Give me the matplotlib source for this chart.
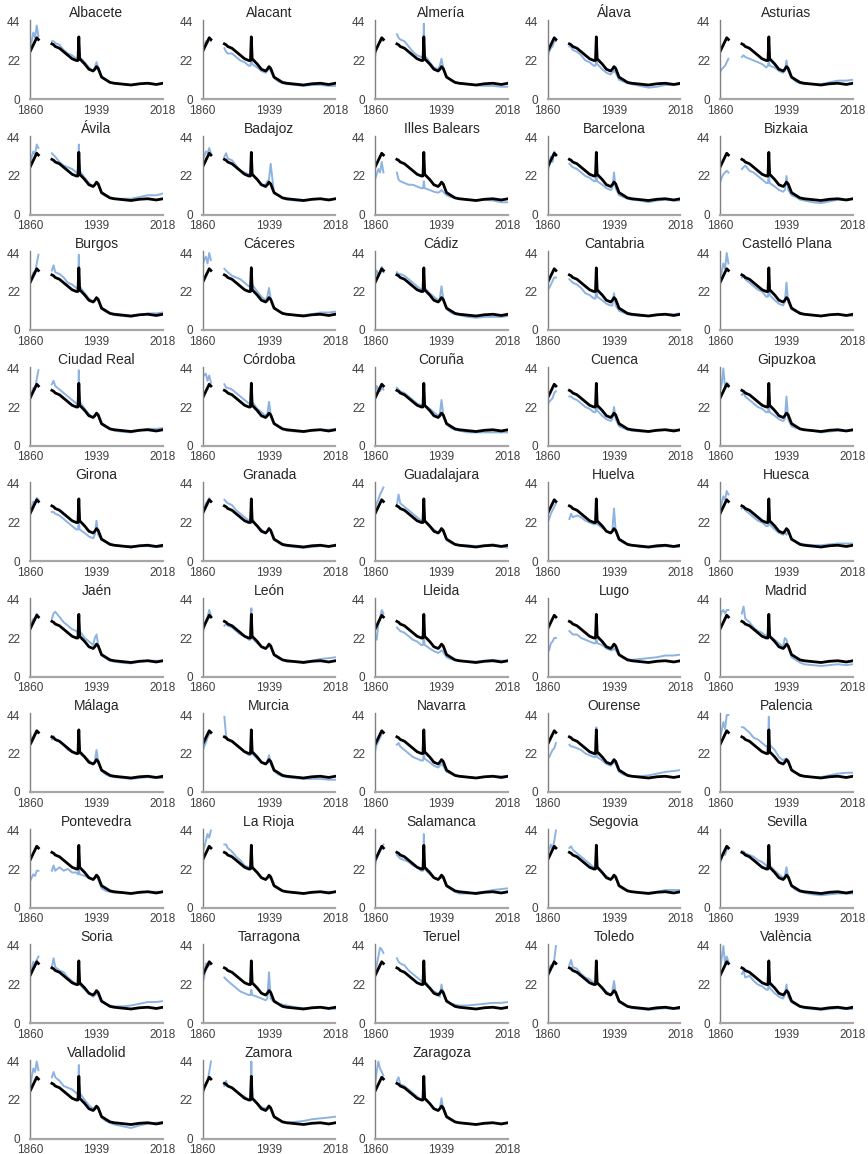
import numpy as np
import matplotlib
matplotlib.use("Agg")
import matplotlib.pyplot as plt

plt.rcParams['font.family'] = ['Liberation Sans', 'DejaVu Sans']

# Years sampled (gap in the series between 1870 and 1886)
years = [1860, 1862, 1864, 1866, 1868, 1870,
         1886, 1888, 1890, 1895, 1900, 1905, 1910, 1915, 1917, 1918, 1919,
         1925, 1930, 1935, 1937, 1939, 1941, 1945, 1950, 1955, 1960,
         1970, 1980, 1990, 2000, 2010, 2018]

# Spain (black line)
spain = [27, 29, 31, 33, 35, 34,
         31.5, 31, 30, 29, 27, 25, 23, 22, 22, 35.5, 23,
         20, 17, 16, 17, 18.5, 17.5, 12.5, 11, 9.5, 9,
         8.5, 8, 8.7, 9, 8.3, 9]

# Provinces (blue lines)
albacete = [28, 33, 38, 35, 42, 36, 33, 33, 32, 31, 28, 26, 25, 23, 23, 33, 24, 21, 18, 16, 18, 21, 18, 13, 11, 9.5, 9, 8.5, 8, 8.5, 9, 8.5, 9]
alacant = [28, 30, 33, 32, 35, 33, 29, 27, 26, 26, 24, 22, 21, 19, 19, 28, 20, 18, 16, 15, 16, 18, 16, 12, 10, 9, 8.5, 8, 7.5, 8, 8, 7.5, 7.5]
almeria = [24, 29, 31, 33, 33, 34, 37, 35, 34, 33, 30, 27, 25, 24, 24, 43, 25, 21, 18, 17, 19, 23, 18, 13, 11, 9.5, 9, 8.5, 7.8, 7.5, 7.5, 7, 7]
alava = [24, 27, 29, 30, 33, 33, 30, 30, 28, 27, 25, 22, 21, 19, 19, 24, 20, 17, 15, 14, 15, 16, 15, 11, 10, 9, 8.5, 7.5, 6.5, 7, 8, 8, 8.5]
asturias = [15, 17, 18, 19, 21, 23, 24, 25, 24, 23, 22, 21, 20, 18, 19, 22, 19, 18, 16, 15, 16, 22, 16, 12, 10, 9, 8.5, 8.5, 8.5, 9.5, 10.5, 10.5, 11]
avila = [28, 33, 36, 34, 40, 38, 35, 34, 33, 30, 28, 27, 26, 24, 24, 40, 25, 21, 18, 16, 17, 18, 17, 12, 10.5, 9.5, 9, 9, 9, 10, 11, 11, 12]
badajoz = [30, 33, 36, 35, 38, 35, 33, 35, 32, 31, 28, 25, 24, 23, 22, 31, 23, 20, 17, 17, 19, 20, 29, 12, 11, 9.5, 8.5, 8, 7.8, 8.5, 9, 8.5, 9]
balears = [20, 23, 26, 24, 30, 24, 24, 20, 19, 18, 17, 17, 16, 15, 15, 19, 15, 14, 13, 12.5, 13, 14, 13, 11, 10, 9.5, 9, 8.5, 8, 8.5, 8, 7, 7]
barcelona = [24, 28, 33, 30, 36, 34, 29, 28, 27, 26, 24, 22, 21, 19, 19, 26, 19, 17, 15, 14, 15, 24, 15, 11, 10, 9, 8.5, 8, 7, 8, 8.5, 8, 8]
bizkaia = [18, 21, 23, 24, 25, 24, 26, 27, 28, 25, 24, 22, 20, 18, 18, 24, 18, 16, 14, 13, 14, 22, 14, 11, 10, 8.5, 8, 7, 6.5, 7.5, 8.5, 8.5, 9]
burgos = [27, 30, 33, 32, 38, 43, 34, 37, 33, 32, 30, 27, 26, 24, 24, 43, 25, 21, 18, 16, 17, 18, 17, 12, 10.5, 9.5, 8.5, 8, 7.5, 8.5, 9.5, 9.5, 10]
caceres = [37, 40, 42, 38, 44, 40, 35, 34, 33, 31, 30, 29, 27, 25, 25, 36, 26, 22, 19, 17, 19, 24, 18, 13, 11, 9.5, 9, 8.5, 8.5, 9, 10, 10, 10.5]
cadiz = [29, 34, 32, 33, 36, 33, 33, 32, 32, 31, 29, 27, 25, 23, 23, 26, 24, 21, 19, 17, 18, 25, 18, 12, 10, 9, 8.5, 7.5, 7, 7.5, 7.5, 7.5, 8]
cantabria = [23, 24, 26, 28, 30, 30, 29, 28, 27, 26, 24, 21, 20, 18, 18, 27, 19, 17, 15, 14, 14, 21, 14, 11, 10, 9, 8.5, 8, 8, 8.5, 9, 9, 9.5]
castello = [28, 33, 38, 35, 44, 38, 30, 31, 29, 27, 25, 23, 22, 19, 19, 27, 20, 17, 15, 14, 16, 27, 16, 12, 10.5, 10, 9, 8.5, 8, 8.5, 9, 8.5, 8]
ciudad_real = [27, 30, 33, 32, 38, 43, 35, 37, 34, 32, 30, 28, 26, 24, 24, 43, 25, 21, 18, 16, 17, 18, 17, 12, 10.5, 9.5, 8.5, 7.8, 7.5, 8.5, 9.5, 9.5, 10]
cordoba = [42, 40, 41, 37, 40, 36, 35, 33, 33, 32, 30, 28, 26, 24, 24, 36, 25, 21, 19, 17, 18, 25, 18, 13, 11, 9.5, 8.5, 8, 7.8, 8.5, 9, 9, 9.5]
coruna = [30, 34, 32, 31, 33, 32, 33, 32, 31, 30, 28, 26, 24, 23, 23, 26, 23, 21, 19, 17, 18, 26, 18, 12, 10, 9, 8.5, 7.5, 7.5, 7.5, 7.5, 7.5, 7.5]
cuenca = [23, 25, 26, 27, 30, 31, 28, 28, 27, 26, 24, 22, 21, 19, 19, 26, 20, 17, 15, 14, 15, 22, 15, 11, 10, 9, 8.5, 8, 8, 8.5, 9, 9, 9]
gipuzkoa = [31, 35, 44, 33, 36, 35, 29, 30, 28, 26, 24, 22, 21, 19, 19, 24, 19, 17, 15, 14, 15, 28, 15, 11, 10, 9.5, 9, 8.5, 7.5, 8, 8.5, 8.5, 8.5]
girona = [28, 31, 34, 33, 36, 35, 28, 28, 27, 26, 24, 22, 20, 18, 18, 22, 18, 16, 14, 13, 15, 23, 15, 12, 11, 10, 9, 8.5, 8.5, 8.5, 8.5, 8, 8]
granada = [28, 30, 33, 34, 36, 34, 35, 34, 33, 32, 29, 27, 25, 23, 23, 28, 24, 20, 18, 16, 17, 19, 17, 12, 10.5, 9, 8.5, 8, 7.5, 8, 8.5, 8.5, 8.5]
guadalajara = [30, 33, 35, 38, 40, 42, 32, 38, 33, 31, 29, 27, 25, 23, 22, 32, 23, 20, 18, 16, 17, 19, 17, 12, 10.5, 9.5, 9, 9, 8.5, 9, 9.5, 8.5, 7.5]
huelva = [22, 24, 27, 29, 31, 33, 24, 27, 25, 26, 25, 23, 22, 21, 21, 26, 21, 19, 17, 16, 17, 30, 17, 12, 10.5, 9.5, 9, 8, 7.8, 8, 8.5, 8, 8]
huesca = [28, 33, 37, 35, 40, 38, 30, 31, 29, 27, 25, 23, 22, 20, 20, 26, 21, 18, 16, 15, 16, 15, 17, 12, 11, 10, 9.5, 9, 9, 9.5, 10, 10, 10]
jaen = [27, 31, 33, 32, 36, 34, 33, 36, 37, 34, 31, 29, 27, 26, 25, 33, 26, 22, 20, 18, 22, 24, 18, 12, 10.5, 9, 8.5, 7.8, 7.5, 8.5, 9, 9, 9]
leon = [24, 28, 32, 34, 38, 35, 29, 30, 29, 28, 26, 24, 23, 21, 21, 39, 22, 19, 17, 16, 17, 17.5, 17, 12, 10.5, 9.5, 8.5, 8.5, 8.5, 9, 10, 10.5, 11]
lleida = [24, 21, 30, 33, 38, 36, 28, 27, 26, 25, 23, 21, 20, 18, 18, 23, 18, 16, 14.5, 13.5, 14, 15, 14, 11, 10, 9.5, 9, 8.5, 8.5, 9, 9.5, 9, 9]
lugo = [17, 15, 19, 20, 22, 22, 26, 25, 24, 24, 22, 21, 20, 19, 19, 22, 19, 18, 16, 15, 15, 16, 15, 12, 10.5, 10, 9.5, 10, 10.5, 11, 12, 12, 12.5]
madrid = [34, 37, 38, 36, 38, 38, 36, 40, 33, 31, 28, 26, 25, 23, 22, 27, 23, 21, 19, 17, 22, 21, 17, 11, 9.5, 8, 7, 6.5, 6, 6.5, 7, 6.5, 7]
malaga = [35, 28, 30, 32, 34, 34, 30, 32, 30, 29, 27, 24, 23, 22, 22, 29, 22, 20, 18, 16, 17, 24, 17, 12, 10, 9, 8.5, 8, 7.5, 8, 8.5, 8, 8]
murcia = [23, 26, 28, 31, 33, 34, 43, 32, 30, 29, 27, 25, 23, 21, 21, 26, 22, 19, 17, 16, 17, 21, 16, 12, 10, 9, 8.5, 8, 7.5, 7.5, 7.5, 7, 7]
navarra = [23, 27, 29, 31, 33, 34, 27, 28, 26, 24, 22, 20, 19, 18, 18, 22, 19, 17, 15, 14, 15, 16, 15, 11.5, 10.5, 9.5, 9, 8.5, 8, 8.5, 9, 9, 9]
ourense = [19, 20, 22, 24, 25, 28, 27, 26, 26, 25, 24, 22, 21, 20, 20, 37, 20, 18, 16, 15, 16, 17, 16, 11.5, 10, 9.5, 9, 9, 9.5, 10.5, 11.5, 12, 12.5]
palencia = [30, 35, 40, 36, 44, 44, 37, 37, 36, 34, 31, 30, 28, 26, 26, 43, 27, 24, 20, 18, 19, 19, 18, 13, 11, 10, 9, 8.5, 8.5, 9.5, 10.5, 11, 11]
pontevedra = [15, 17, 19, 18, 21, 21, 21, 24, 21, 23, 21, 22, 20, 20, 19, 22, 19, 18, 17, 16, 17, 18, 16, 11, 9.5, 9, 8.5, 8.5, 8, 8.5, 9, 9, 9]
la_rioja = [31, 34, 38, 42, 40, 44, 36, 36, 34, 32, 29, 27, 24, 23, 23, 36, 23, 20, 17, 16, 17, 17, 17, 12, 10.5, 9.5, 9, 8.5, 8, 8.5, 9, 9, 9]
salamanca = [24, 28, 30, 32, 34, 36, 30, 29, 28, 27, 26, 24, 23, 21, 21, 42, 22, 19, 17, 16, 17, 17, 17, 12, 10.5, 9, 8, 8, 8.5, 9, 10, 10.5, 11]
segovia = [30, 33, 36, 33, 38, 44, 34, 35, 33, 31, 29, 27, 25, 23, 23, 36, 24, 20, 18, 16, 17, 17.5, 17, 12, 10.5, 9.5, 9, 8.5, 8.5, 9, 10, 10, 10]
sevilla = [25, 28, 31, 30, 33, 34, 32, 32, 31, 30, 29, 27, 26, 24, 23, 28, 24, 21, 19, 17, 18, 23, 17, 12, 10, 9, 8.5, 7.5, 7, 7.5, 8, 8, 8]
soria = [28, 31, 35, 32, 36, 38, 32, 37, 32, 30, 29, 26, 24, 22, 22, 31, 22, 19, 17, 15, 16, 17, 16, 12, 11, 10, 9.5, 9.5, 10, 11, 12, 12, 12.5]
tarragona = [23, 26, 34, 32, 33, 34, 26, 25, 24, 22, 20, 18, 17, 16, 16, 19, 16, 15, 14, 13, 14, 29, 14, 12, 11, 10.5, 10, 9, 8.5, 8.5, 9, 8.5, 8]
teruel = [28, 33, 38, 43, 42, 40, 37, 35, 34, 33, 30, 28, 26, 24, 23, 28, 24, 20, 18, 17, 15, 22, 17, 13, 11, 10.5, 10, 10, 10.5, 11, 11.5, 11.5, 12]
toledo = [28, 31, 33, 32, 36, 44, 33, 36, 32, 31, 28, 26, 25, 23, 23, 28, 23, 20, 18, 16, 18, 24, 17, 12, 10.5, 9.5, 8.5, 8, 7.5, 8, 8.5, 8, 8]
valencia = [30, 37, 44, 34, 38, 35, 28, 30, 26, 27, 24, 22, 21, 19, 19, 26, 20, 17, 15, 14, 16, 22, 15, 12, 10.5, 9.5, 8.5, 8, 7.5, 8, 8.5, 8, 8]
valladolid = [28, 35, 40, 38, 44, 39, 35, 38, 35, 33, 30, 29, 28, 26, 25, 42, 26, 22, 19, 17, 18, 18, 17, 12, 10, 9, 8, 7, 6, 7.5, 8.5, 9, 9.5]
zamora = [24, 28, 31, 33, 38, 44, 30, 33, 30, 29, 27, 25, 24, 22, 22, 44, 23, 20, 18, 17, 18, 19, 17, 12, 10.5, 9.5, 9, 9.5, 10, 11, 11.5, 12, 12.5]
zaragoza = [30, 38, 44, 40, 38, 36, 33, 35, 31, 30, 28, 26, 24, 22, 22, 27, 23, 20, 17, 16, 17, 23, 17, 12, 10.5, 9.5, 9, 8.5, 8, 8.5, 9, 8.5, 9]

names = ["Albacete", "Alacant", "Almería", "Álava", "Asturias",
         "Ávila", "Badajoz", "Illes Balears", "Barcelona", "Bizkaia",
         "Burgos", "Cáceres", "Cádiz", "Cantabria", "Castelló Plana",
         "Ciudad Real", "Córdoba", "Coruña", "Cuenca", "Gipuzkoa",
         "Girona", "Granada", "Guadalajara", "Huelva", "Huesca",
         "Jaén", "León", "Lleida", "Lugo", "Madrid",
         "Málaga", "Murcia", "Navarra", "Ourense", "Palencia",
         "Pontevedra", "La Rioja", "Salamanca", "Segovia", "Sevilla",
         "Soria", "Tarragona", "Teruel", "Toledo", "València",
         "Valladolid", "Zamora", "Zaragoza"]

series = [albacete, alacant, almeria, alava, asturias,
          avila, badajoz, balears, barcelona, bizkaia,
          burgos, caceres, cadiz, cantabria, castello,
          ciudad_real, cordoba, coruna, cuenca, gipuzkoa,
          girona, granada, guadalajara, huelva, huesca,
          jaen, leon, lleida, lugo, madrid,
          malaga, murcia, navarra, ourense, palencia,
          pontevedra, la_rioja, salamanca, segovia, sevilla,
          soria, tarragona, teruel, toledo, valencia,
          valladolid, zamora, zaragoza]

x_ticks = [1860, 1939, 2018]
y_ticks = [0, 22, 44]

BLUE = "#8DB3E2"
W, H = 868, 1154

yr = np.array(years, dtype=float)
seg1 = yr <= 1870
seg2 = yr >= 1886

fig = plt.figure(figsize=(W / 100, H / 100), dpi=100)
for i, (name, vals) in enumerate(zip(names, series)):
    r, c = divmod(i, 5)
    left = 30 + c * 172.5
    base = 99 + r * 115.5
    h = 45 * 1.75
    ax = fig.add_axes([left / W, 1 - base / H, 133 / W, h / H])
    v = np.array(vals, dtype=float)
    s = np.array(spain, dtype=float)
    for m in (seg1, seg2):
        ax.plot(yr[m], v[m], color=BLUE, lw=1.4, solid_joinstyle='round')
    for m in (seg1, seg2):
        ax.plot(yr[m], s[m], color="black", lw=2.0, solid_joinstyle='round')
    ax.set_xlim(1860, 2018)
    ax.set_ylim(0, 45)
    ax.set_xticks(x_ticks)
    ax.set_yticks(y_ticks)
    ax.tick_params(length=0, labelsize=8.5, colors="#404040", pad=4)
    ax.tick_params(axis='y', pad=7)
    for sp in ("top", "right"):
        ax.spines[sp].set_visible(False)
    ax.spines["left"].set_color("#808080")
    ax.spines["left"].set_linewidth(1.0)
    ax.spines["bottom"].set_color("#A6A6A6")
    ax.spines["bottom"].set_linewidth(1.6)
    ax.set_title(name, fontsize=10, color="#262626", pad=2)

fig.savefig("out.png", dpi=100)
